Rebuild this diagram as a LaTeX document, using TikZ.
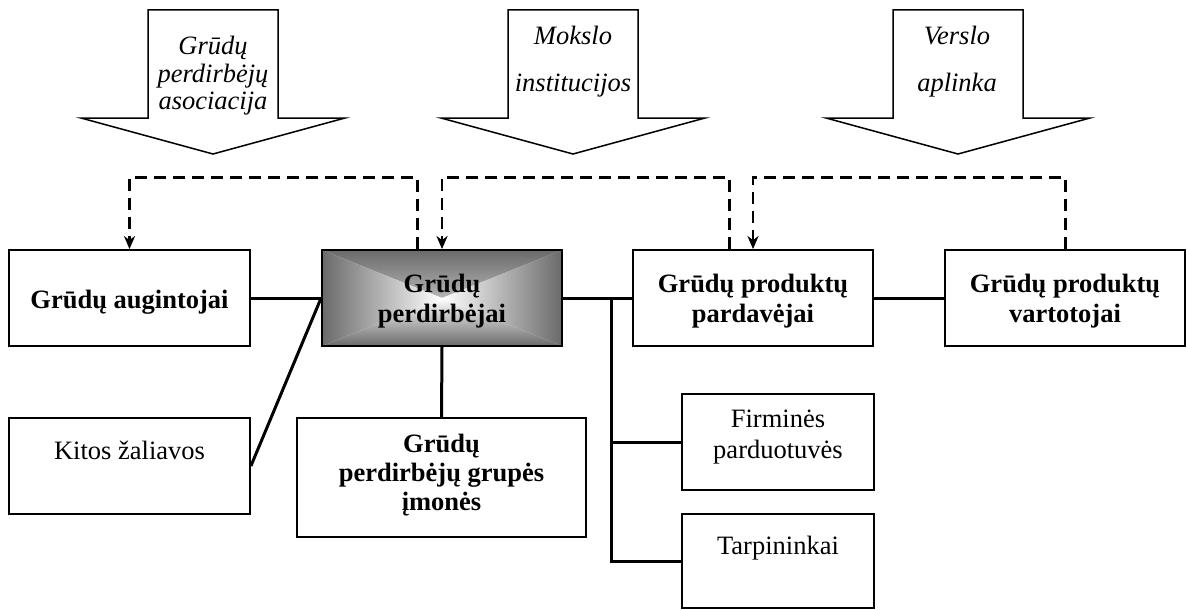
\documentclass[tikz,border=0pt]{standalone}
\usepackage{fontspec}
\setmainfont{Liberation Serif}
\usetikzlibrary{arrows.meta,calc}
\definecolor{edgegray}{HTML}{6A6A6A}
\colorlet{midgray}{edgegray!40!white}
\tikzset{
  box/.style={draw, line width=1.8pt, fill=white, inner sep=0pt,
              minimum width=240pt, minimum height=96pt},
  % texts are placed by the baseline of their last line
  boldtxt/.style={anchor=base, align=center, inner sep=0pt,
                  font=\fontsize{26.5}{30}\selectfont\bfseries},
  plaintxt/.style={anchor=base, align=center, inner sep=0pt,
                   font=\fontsize{26.5}{31}\selectfont},
  saytxt/.style={anchor=base, align=center, inner sep=0pt,
                 font=\fontsize{26.5}{27.5}\selectfont\itshape},
  link/.style={line width=3pt},
  tie/.style={line width=2.8pt, dash pattern=on 12pt off 7pt,
              -{Stealth[length=13pt,width=11pt,inset=4pt]}},
  blockarrow/.style={draw, line width=1.5pt, fill=white, line join=miter},
  rectshade/.style={path picture={
    \shade[top color=edgegray, middle color=midgray, bottom color=white]
      (path picture bounding box.north west) -- (path picture bounding box.north east)
      -- (path picture bounding box.center) -- cycle;
    \shade[bottom color=edgegray, middle color=midgray, top color=white]
      (path picture bounding box.south west) -- (path picture bounding box.south east)
      -- (path picture bounding box.center) -- cycle;
    \shade[left color=edgegray, middle color=midgray, right color=white]
      (path picture bounding box.north west) -- (path picture bounding box.south west)
      -- (path picture bounding box.center) -- cycle;
    \shade[right color=edgegray, middle color=midgray, left color=white]
      (path picture bounding box.north east) -- (path picture bounding box.south east)
      -- (path picture bounding box.center) -- cycle;
  }},
}
\begin{document}
\begin{tikzpicture}[x=1pt,y=-1pt]
\useasboundingbox (0,0) rectangle (1187,610);

% influence arrows along the top
\foreach \c in {213,573,958}
  \draw[blockarrow] (\c-65,10) -- (\c+65,10) -- (\c+65,118) -- (\c+132,118)
    -- (\c,154) -- (\c-132,118) -- (\c-65,118) -- cycle;
\node[saytxt] (asoc) at (213,110) {Grūdų\\perdirbėjų\\asociacija};
\node[saytxt, font=\fontsize{26.5}{47}\selectfont\itshape] (moks) at (573,92) {Mokslo\\institucijos};
\node[saytxt, font=\fontsize{26.5}{47}\selectfont\itshape] (vers) at (957,92) {Verslo\\aplinka};

% main chain
\node[box, minimum width=241pt] (aug) at (129.5,298) {};
\node[box, rectshade] (cen) at (442,298) {};
\node[box] (par) at (753,298) {};
\node[box] (var) at (1065,298) {};

% lower boxes
\node[box, minimum width=241pt] (kit) at (129.5,466) {};
\node[box, minimum width=289pt, minimum height=119pt] (gru) at (441.5,477.5) {};
\node[box, minimum width=192pt] (fir) at (778,442) {};
\node[box, minimum width=192pt, minimum height=94pt] (tar) at (778,561) {};

% box texts
\node[boldtxt] (augT) at (129.5,308) {Grūdų augintojai};
\node[boldtxt] (cenT) at (442,322) {Grūdų\\perdirbėjai};
\node[boldtxt] (parT) at (753,322) {Grūdų produktų\\pardavėjai};
\node[boldtxt] (varT) at (1065,322) {Grūdų produktų\\vartotojai};
\node[plaintxt] (kitT) at (129.5,459) {Kitos žaliavos};
\node[boldtxt, font=\fontsize{26.5}{29}\selectfont\bfseries] (gruT) at (441.5,510) {Grūdų\\perdirbėjų grupės\\įmonės};
\node[plaintxt] (firT) at (778,458) {Firminės\\parduotuvės};
\node[plaintxt] (tarT) at (778,554) {Tarpininkai};

% solid links
\draw[link] (aug.east) -- (cen.west);
\draw[link] (cen.east) -- (par.west);
\draw[link] (par.east) -- (var.west);
\draw[link] (cen.south) -- (gru.north);
\draw[link] (kit.east) -- (cen.west);
\coordinate (br) at (611,298);
\draw[link] (br) |- (tar.west);
\draw[link] (br |- fir.west) -- (fir.west);

% dashed influence links
\draw[tie] ($(cen.north west)+(96,0)$) -- ++(0,-72) -| (aug.north);
\draw[tie] ($(par.north west)+(97,0)$) -- ++(0,-72) -| (cen.north);
\draw[tie] ($(var.north west)+(121,0)$) -- ++(0,-72) -| (par.north);
\end{tikzpicture}
\end{document}
